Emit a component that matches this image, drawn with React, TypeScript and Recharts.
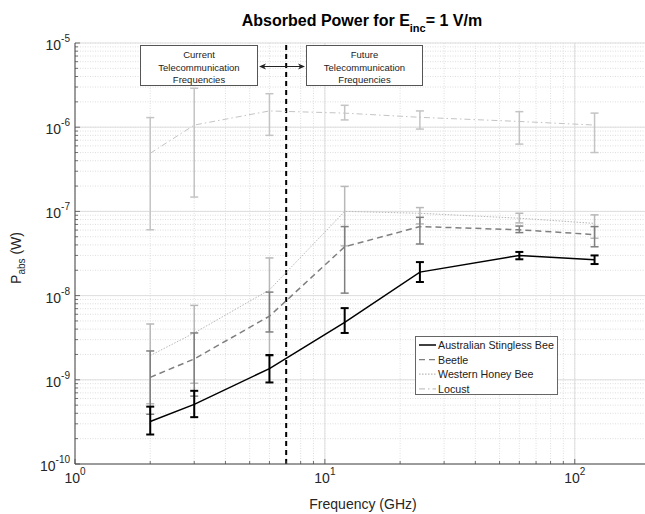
import { LineChart, Line, XAxis, YAxis, CartesianGrid, ErrorBar, ReferenceLine } from 'recharts';

// frequencies in GHz
const freqs = [2, 3, 6, 12, 24, 60, 120];

// absorbed power (W), with upper / lower error limits
const stinglessBee = [3.2e-10, 5.1e-10, 1.36e-9, 4.8e-9, 1.9e-8, 3.0e-8, 2.67e-8];
const stinglessBeeHigh = [4.8e-10, 7.4e-10, 1.97e-9, 7.1e-9, 2.5e-8, 3.3e-8, 3.0e-8];
const stinglessBeeLow = [2.24e-10, 3.6e-10, 9.3e-10, 3.6e-9, 1.45e-8, 2.7e-8, 2.37e-8];

const beetle = [1.07e-9, 1.77e-9, 5.7e-9, 3.8e-8, 6.6e-8, 6.05e-8, 5.3e-8];
const beetleHigh = [2.2e-9, 3.6e-9, 1.1e-8, 6.6e-8, 8.5e-8, 6.7e-8, 6.6e-8];
const beetleLow = [3.9e-10, 6.4e-10, 3.7e-9, 1.07e-8, 4.1e-8, 5.6e-8, 3.8e-8];

const honeyBee = [1.94e-9, 3.6e-9, 1.17e-8, 1.0e-7, 9.5e-8, 8.3e-8, 7.2e-8];
const honeyBeeHigh = [4.6e-9, 7.65e-9, 2.8e-8, 1.98e-7, 1.11e-7, 9.5e-8, 9.1e-8];
const honeyBeeLow = [5.2e-10, 9.1e-10, 1.9e-9, 3.9e-8, 7.1e-8, 7.3e-8, 4.8e-8];

const locust = [4.9e-7, 1.06e-6, 1.56e-6, 1.47e-6, 1.31e-6, 1.17e-6, 1.06e-6];
const locustHigh = [1.3e-6, 2.9e-6, 2.5e-6, 1.82e-6, 1.56e-6, 1.53e-6, 1.47e-6];
const locustLow = [6.05e-8, 1.48e-7, 8.0e-7, 1.22e-6, 9.5e-7, 6.3e-7, 5.0e-7];

// axis ticks
const xMajor = [1, 10, 100];
const xTicks = [1, 2, 3, 4, 5, 6, 7, 8, 9, 10, 20, 30, 40, 50, 60, 70, 80, 90, 100];
const yExponents = [-10, -9, -8, -7, -6, -5];
const yMajor = yExponents.map((e) => Math.pow(10, e));
const yTicks: number[] = [];
yExponents.forEach((e) => {
  if (e === -5) { yTicks.push(1e-5); return; }
  [1, 2, 3, 4, 5, 6, 7, 8, 9].forEach((k) => yTicks.push(k * Math.pow(10, e)));
});

const series = [
  { key: 'locust', name: 'Locust', values: locust, high: locustHigh, low: locustLow, color: '#c4c4c4', width: 1, dash: '6 3 1.5 3', errWidth: 1.5 },
  { key: 'honey', name: 'Western Honey Bee', values: honeyBee, high: honeyBeeHigh, low: honeyBeeLow, color: '#b8b8b8', width: 1, dash: '1.5 1.5', errWidth: 1.5 },
  { key: 'beetle', name: 'Beetle', values: beetle, high: beetleHigh, low: beetleLow, color: '#7f7f7f', width: 1.5, dash: '6 4', errWidth: 1.5 },
  { key: 'stingless', name: 'Australian Stingless Bee', values: stinglessBee, high: stinglessBeeHigh, low: stinglessBeeLow, color: '#000000', width: 1.5, dash: undefined, errWidth: 2 },
];

const rows = freqs.map((f, i) => {
  const r: any = { f };
  series.forEach((s) => {
    r[s.key] = s.values[i];
    r[s.key + 'Err'] = [s.values[i] - s.low[i], s.high[i] - s.values[i]];
  });
  return r;
});

const FONT = '"Liberation Sans", Arial, Helvetica, sans-serif';
const AXIS = '#4d4d4d';

const isDecade = (v: number) => Math.abs(Math.log10(v) - Math.round(Math.log10(v))) < 1e-6;

const YTick = (props: any) => {
  const { x, y, payload } = props;
  const v = payload.value;
  const major = isDecade(v);
  return (
    <g>
      <line x1={x} x2={x + (major ? 5 : 3)} y1={y} y2={y} stroke={AXIS} strokeWidth={0.8} />
      {major && (
        <text x={x - 5} y={y + 7} textAnchor="end" fontFamily={FONT} fontSize={14} fill="#262626">
          10<tspan dy={-8} fontSize={10}>{Math.round(Math.log10(v))}</tspan>
        </text>
      )}
    </g>
  );
};

const XTick = (props: any) => {
  const { x, y, payload } = props;
  const v = payload.value;
  const major = isDecade(v);
  return (
    <g>
      <line x1={x} x2={x} y1={y} y2={y - (major ? 5 : 3)} stroke={AXIS} strokeWidth={0.8} />
      {major && (
        <text x={x} y={y + 19} textAnchor="middle" fontFamily={FONT} fontSize={14} fill="#262626">
          10<tspan dy={-8} fontSize={10}>{Math.round(Math.log10(v))}</tspan>
        </text>
      )}
    </g>
  );
};

const TopTick = (props: any) => {
  const { x, y, payload } = props;
  const major = isDecade(payload.value);
  return <line x1={x} x2={x} y1={y} y2={y + (major ? 5 : 3)} stroke={AXIS} strokeWidth={0.8} />;
};

const legendOrder = ['stingless', 'beetle', 'honey', 'locust'];

export default function App() {
  return (
    <div style={{ position: 'absolute', left: 0, top: 0, width: 645, height: 514, overflow: 'hidden', background: '#fff' }}>
      <LineChart width={660} height={514} data={rows} margin={{ top: 43, right: 10, bottom: 20, left: 15 }}>
        <CartesianGrid
          verticalValues={xTicks}
          horizontalValues={yTicks}
          stroke="#d6d6d6"
          strokeDasharray="1 1.5"
          strokeWidth={0.8}
        />
        <CartesianGrid verticalValues={xMajor} horizontalValues={yMajor} stroke="#dedede" strokeWidth={1} />
        <XAxis
          dataKey="f"
          type="number"
          scale="log"
          domain={[1, 200]}
          ticks={xTicks}
          interval={0}
          allowDataOverflow
          height={30}
          tick={(p: any) => <XTick {...p} />}
          tickLine={false}
          tickSize={0}
          tickMargin={0}
          axisLine={{ stroke: AXIS }}
        />
        <XAxis
          xAxisId="top"
          orientation="top"
          dataKey="f"
          type="number"
          scale="log"
          domain={[1, 200]}
          ticks={xTicks}
          interval={0}
          allowDataOverflow
          height={0}
          tick={(p: any) => <TopTick {...p} />}
          tickLine={false}
          tickSize={0}
          tickMargin={0}
          axisLine={{ stroke: AXIS }}
        />
        <YAxis
          type="number"
          scale="log"
          domain={[1e-10, 1e-5]}
          ticks={yTicks}
          interval={0}
          allowDataOverflow
          width={60}
          tick={(p: any) => <YTick {...p} />}
          tickLine={false}
          tickSize={0}
          tickMargin={0}
          axisLine={{ stroke: AXIS }}
        />
        <ReferenceLine x={7} stroke="#000" strokeWidth={2} strokeDasharray="5 4" />
        {series.map((s) => (
          <Line
            key={s.key}
            dataKey={s.key}
            name={s.name}
            type="linear"
            stroke={s.color}
            strokeWidth={s.width}
            strokeDasharray={s.dash}
            dot={false}
            isAnimationActive={false}
          >
            <ErrorBar dataKey={s.key + 'Err'} direction="y" width={4} stroke={s.color} strokeWidth={s.errWidth} isAnimationActive={false} />
          </Line>
        ))}
      </LineChart>

      <svg width={645} height={514} style={{ position: 'absolute', left: 0, top: 0, pointerEvents: 'none' }}>
        {/* title */}
        <text x={362} y={26} textAnchor="middle" fontFamily={FONT} fontSize={16} fontWeight="bold" fill="#000">
          Absorbed Power for E<tspan dy={6} fontSize={11}>inc</tspan><tspan dy={-6} fontSize={16}>= 1 V/m</tspan>
        </text>
        {/* axis labels */}
        <text x={363} y={509} textAnchor="middle" fontFamily={FONT} fontSize={14} fill="#262626">Frequency (GHz)</text>
        <g transform="translate(21 258) rotate(-90)">
          <text x={0} y={0} textAnchor="middle" fontFamily={FONT} fontSize={14} fill="#262626">
            P<tspan dy={4} fontSize={10}>abs</tspan><tspan dy={-4} fontSize={14}> (W)</tspan>
          </text>
        </g>

        {/* annotation boxes */}
        <rect x={140.5} y={45.5} width={117} height={40} fill="#fff" stroke="#555" />
        <text x={199} y={58} textAnchor="middle" fontFamily={FONT} fontSize={9.5} fill="#222">Current</text>
        <text x={199} y={70.5} textAnchor="middle" fontFamily={FONT} fontSize={9.5} fill="#222">Telecommunication</text>
        <text x={199} y={83} textAnchor="middle" fontFamily={FONT} fontSize={9.5} fill="#222">Frequencies</text>

        <rect x={306.5} y={45.5} width={116} height={40} fill="#fff" stroke="#555" />
        <text x={364.5} y={58} textAnchor="middle" fontFamily={FONT} fontSize={9.5} fill="#222">Future</text>
        <text x={364.5} y={70.5} textAnchor="middle" fontFamily={FONT} fontSize={9.5} fill="#222">Telecommunication</text>
        <text x={364.5} y={83} textAnchor="middle" fontFamily={FONT} fontSize={9.5} fill="#222">Frequencies</text>

        {/* double arrow */}
        <line x1={261} x2={303} y1={66.5} y2={66.5} stroke="#222" strokeWidth={1} />
        <path d="M259,66.5 L266,63.5 L264,66.5 L266,69.5 Z" fill="#222" />
        <path d="M305,66.5 L298,63.5 L300,66.5 L298,69.5 Z" fill="#222" />

        {/* legend */}
        <rect x={415.5} y={336.5} width={142} height={58} fill="#fff" stroke="#666" />
        {legendOrder.map((k, i) => {
          const s = series.find((d) => d.key === k)!;
          const cy = 345 + i * 14.6;
          return (
            <g key={k}>
              <line x1={419} x2={436} y1={cy} y2={cy} stroke={s.color} strokeWidth={s.key === 'stingless' ? 1.5 : 1.2} strokeDasharray={s.dash} />
              <text x={438} y={cy + 4} fontFamily={FONT} fontSize={10.7} fill="#222">{s.name}</text>
            </g>
          );
        })}
      </svg>
    </div>
  );
}
